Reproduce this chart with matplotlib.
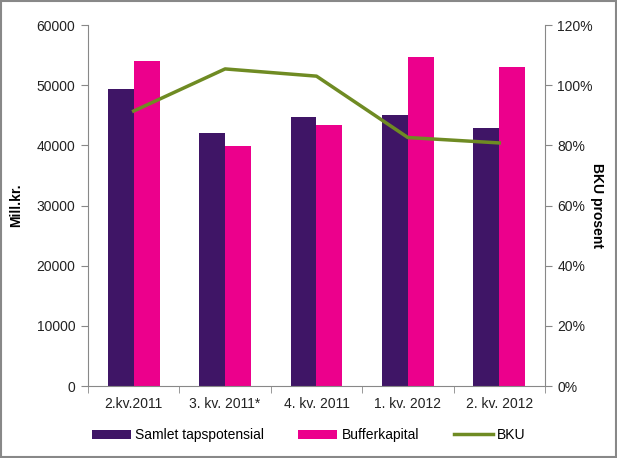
import matplotlib
matplotlib.use("Agg")
import matplotlib.pyplot as plt
import numpy as np
from matplotlib.ticker import FuncFormatter

categories = ["2.kv.2011", "3. kv. 2011*", "4. kv. 2011", "1. kv. 2012", "2. kv. 2012"]
samlet = [49400, 42000, 44700, 45000, 42900]
buffer_ = [54000, 39900, 43400, 54700, 53000]
bku = [91.4, 105.4, 103.0, 82.6, 80.8]

plt.rcParams['font.family'] = ['Liberation Sans', 'DejaVu Sans']
fig = plt.figure(figsize=(6.17, 4.58), dpi=100)
ax = fig.add_axes([0.1426, 0.1572, 0.7407, 0.7882])
x = np.arange(len(categories))
w = 0.284
c1 = '#3F1566'
c2 = '#EC008C'
c3 = '#6F8B23'
ax.bar(x - w/2, samlet, w, color=c1, label='Samlet tapspotensial')
ax.bar(x + w/2, buffer_, w, color=c2, label='Bufferkapital')
ax.set_xlim(-0.5, len(categories) - 0.5)
ax.set_ylim(0, 60000)
ax.set_yticks(range(0, 60001, 10000))
ax.set_xticks(x)
ax.set_xticklabels(categories)
ax.set_xticks(np.arange(-0.5, len(categories)), minor=True)
ax.tick_params(axis='x', which='major', length=0, pad=8)
ax.tick_params(axis='x', which='minor', length=5, color='#888888')
ax.tick_params(axis='y', length=5, color='#888888', pad=4)
ax.tick_params(labelsize=10, labelcolor='#222222')
for s in ['top', 'right']:
    ax.spines[s].set_visible(False)
for s in ['left', 'bottom']:
    ax.spines[s].set_color('#888888')
ax.set_ylabel('Mill.kr.', fontweight='bold', fontsize=10)
ax.yaxis.set_label_coords(-0.142, 0.5)

ax2 = ax.twinx()
ax2.plot(x, bku, color=c3, lw=2.5, label='BKU')
ax2.set_ylim(0, 120)
ax2.set_yticks(range(0, 121, 20))
ax2.yaxis.set_major_formatter(FuncFormatter(lambda v, p: f"{int(v)}%"))
ax2.tick_params(axis='y', length=5, color='#888888', labelsize=10, labelcolor='#222222', pad=4)
for s in ['top', 'left', 'bottom']:
    ax2.spines[s].set_visible(False)
ax2.spines['right'].set_color('#888888')
ax2.set_ylabel('BKU prosent', fontweight='bold', fontsize=10, rotation=270, va='center')
ax2.yaxis.set_label_coords(1.113, 0.5)

h1, l1 = ax.get_legend_handles_labels()
h2, l2 = ax2.get_legend_handles_labels()
fig.legend(h1 + h2, l1 + l2, loc='center', bbox_to_anchor=(0.5, 0.05), ncol=3,
           frameon=False, fontsize=10, handlelength=2.8, handleheight=0.6,
           columnspacing=2.5, handletextpad=0.3)

fig.patches.append(plt.Rectangle((0.002, 0.002), 0.996, 0.996, transform=fig.transFigure,
                                 fill=False, edgecolor='#888888', lw=1.5))
fig.savefig('out.png', dpi=100)
